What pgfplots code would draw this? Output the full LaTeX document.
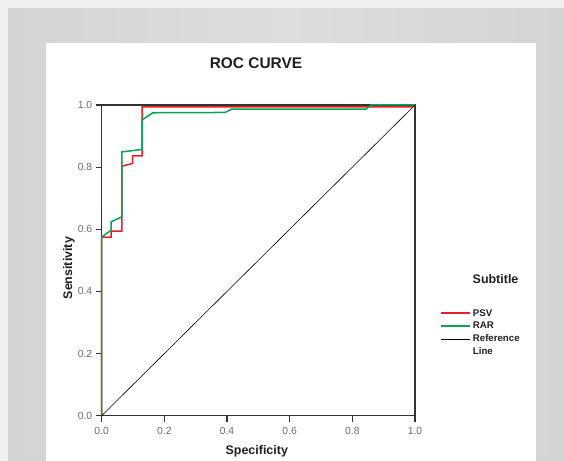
\documentclass[border=0pt]{standalone}
\usepackage{pgfplots}
\pgfplotsset{compat=1.18}
\usepackage{fontspec}
\setmainfont{Liberation Sans}
\definecolor{bgouter}{HTML}{F0F0F0}
\definecolor{bggray}{HTML}{D3D4D6}
\definecolor{bglight}{HTML}{DCDDDF}
\definecolor{psvred}{HTML}{ED1C24}
\definecolor{rargreen}{HTML}{00A651}
\definecolor{axisdark}{HTML}{333333}
\definecolor{ticktext}{HTML}{6E6E6E}
\definecolor{titletext}{HTML}{231F20}
\begin{document}
\begin{tikzpicture}
\fill[bgouter] (0,0) rectangle (564bp,461bp);
\shade[left color=bggray, right color=bggray, middle color=bglight] (8bp,0) rectangle (564bp,452bp);
\fill[white] (46bp,0) rectangle (536bp,418bp);
\path[use as bounding box] (0,0) rectangle (564bp,461bp);
\begin{axis}[
  at={(101.7bp,45.3bp)}, anchor=south west,
  scale only axis, width=313.3bp, height=310.7bp,
  xmin=0, xmax=1, ymin=0, ymax=1,
  clip=false,
  xtick={0,0.2,0.4,0.6,0.8,1.0},
  ytick={0,0.2,0.4,0.6,0.8,1.0},
  xticklabels={0.0,0.2,0.4,0.6,0.8,1.0},
  yticklabels={0.0,0.2,0.4,0.6,0.8,1.0},
  tick pos=left, tick align=outside,
  major tick length=6bp,
  major tick style={line width=1.2bp, draw=axisdark},
  axis line style={line width=1.2bp, draw=axisdark},
  ticklabel style={font=\fontsize{10.4}{12}\selectfont, text=ticktext},
  xticklabel style={yshift=-2bp},
  title={ROC CURVE},
  title style={font=\bfseries\fontsize{15.5}{18}\selectfont, text=titletext, at={(0.4925,1)}, anchor=base, yshift=31bp},
  xlabel={Specificity},
  xlabel style={font=\bfseries\fontsize{12.5}{15}\selectfont, text=titletext, at={(0.495,0)}, anchor=base, yshift=-39.3bp},
  ylabel={Sensitivity},
  ylabel style={font=\bfseries\fontsize{12.5}{15}\selectfont, text=titletext, at={(0,0.475)}, anchor=base, rotate=0, yshift=29.7bp},
  legend style={draw=none, fill=none, at={(1.070,0.356)}, anchor=north west,
    font=\bfseries\fontsize{9.7}{11.7}\selectfont, text=titletext, row sep=0.5bp},
  legend cell align=left,
  legend image code/.code={\draw[#1] (0bp,0bp) -- (29bp,0bp);},
]
\addplot[psvred, line width=1.5bp, forget plot] coordinates {
(0,0) (0,0.575) (0.030,0.575) (0.030,0.594) (0.064,0.594) (0.064,0.803)
(0.099,0.812) (0.099,0.836) (0.129,0.836) (0.129,0.994) (0.99,0.994) (1,1)};
\addplot[rargreen, line width=1.5bp, forget plot] coordinates {
(0,0) (0,0.575) (0.030,0.597) (0.030,0.624) (0.064,0.640) (0.064,0.849)
(0.129,0.857) (0.129,0.952) (0.163,0.975) (0.394,0.976) (0.415,0.987)
(0.844,0.987) (0.860,1.0) (1,1)};
\addplot[black, line width=0.6bp, forget plot] coordinates {(0,0) (1,1)};
\addlegendimage{draw=psvred, line width=1.8bp}
\addlegendentry{PSV}
\addlegendimage{draw=rargreen, line width=1.8bp}
\addlegendentry{RAR}
\addlegendimage{draw=black, line width=0.6bp}
\addlegendentry{Reference}
\addlegendimage{empty legend}
\addlegendentry{Line}
\node[anchor=west, inner sep=0pt, font=\bfseries\fontsize{12.5}{15}\selectfont, text=titletext] at (rel axis cs:1.1836,0.44) {Subtitle};
\end{axis}
\end{tikzpicture}
\end{document}
